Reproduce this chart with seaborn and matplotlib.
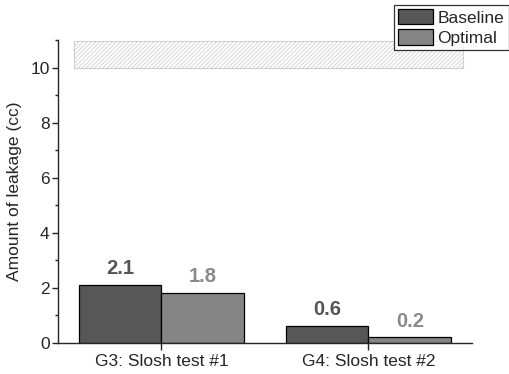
import seaborn as sns
import pandas as pd
import matplotlib.pyplot as plt
from matplotlib.ticker import MultipleLocator

# values
tests = ['G3: Slosh test #1', 'G4: Slosh test #2']
baseline = [2.1, 0.6]
optimal = [1.8, 0.2]
series = ['Baseline', 'Optimal']
colors = ['#575757', '#858585']
label_colors = ['#555555', '#8a8a8a']

rows = []
for t, b, o in zip(tests, baseline, optimal):
    rows.append({'test': t, 'design': 'Baseline', 'leak': b})
    rows.append({'test': t, 'design': 'Optimal', 'leak': o})
data = pd.DataFrame(rows)

sns.set_style('ticks')
plt.rcParams['font.family'] = ['Liberation Sans', 'DejaVu Sans']
plt.rcParams['hatch.linewidth'] = 0.6

fig = plt.figure(figsize=(5.09, 3.74), dpi=100)
ax = fig.add_axes([0.114, 0.083, 0.813, 0.81])

sns.barplot(data=data, x='test', y='leak', hue='design', hue_order=series,
            palette=colors, edgecolor='black', linewidth=0.9, width=0.8,
            saturation=1, ax=ax)

# value labels on each bar
for cont, lc in zip(ax.containers, label_colors):
    ax.bar_label(cont, fmt='%.1f', padding=5, fontsize=14.5,
                 fontweight='bold', color=lc)

# hatched band near the top
ax.axhspan(10.0, 10.95, xmin=0.039, xmax=0.978, facecolor='none',
           edgecolor='#d0d0d0', hatch='////////', linewidth=0.8)

ax.set_xlim(-0.5, 1.5)
ax.set_ylim(0, 11)
ax.yaxis.set_major_locator(MultipleLocator(2))
ax.yaxis.set_minor_locator(MultipleLocator(1))
ax.tick_params(axis='y', which='major', length=4, width=1, labelsize=12.5, pad=2)
ax.tick_params(axis='y', which='minor', length=2.5, width=1)
ax.tick_params(axis='x', length=5, width=1, labelsize=12.5, pad=3)
ax.set_xlabel('')
ax.set_ylabel('Amount of leakage (cc)', fontsize=12.5, labelpad=6)
sns.despine(ax=ax)
for s in ['left', 'bottom']:
    ax.spines[s].set_linewidth(1)

leg = ax.legend(loc='upper left', bbox_to_anchor=(0.812, 1.117),
                frameon=True, fancybox=False, fontsize=12.5,
                handlelength=2.0, handleheight=1.0, borderpad=0.25,
                labelspacing=0.2, handletextpad=0.25, borderaxespad=0)
leg.get_frame().set_edgecolor('black')
leg.get_frame().set_linewidth(0.9)

fig.savefig('out.png', dpi=100)
